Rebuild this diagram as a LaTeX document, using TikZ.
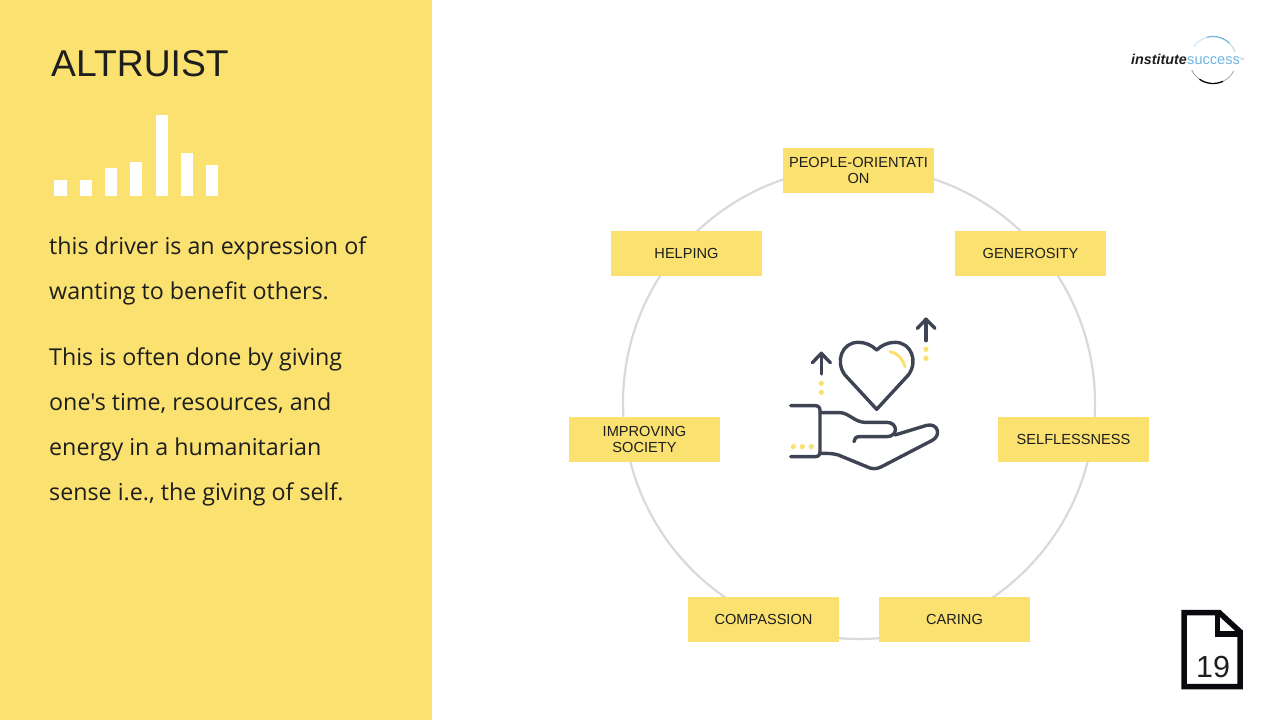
\documentclass[tikz,border=0pt]{standalone}
\usepackage{fontspec}
\setmainfont{Liberation Sans}
\newfontfamily\bodyfont{Open Sans}
\usetikzlibrary{positioning}
\definecolor{panelcolor}{RGB}{250, 225, 112}
\definecolor{iconcolor}{RGB}{62, 68, 84}
\definecolor{inkcolor}{RGB}{30, 30, 30}
\definecolor{ringcolor}{RGB}{217, 217, 217}
\definecolor{logoblue}{RGB}{110, 180, 225}

\begin{document}
\begin{tikzpicture}[
    x=1pt, y=-1pt,
    driver/.style={rectangle, fill=panelcolor, minimum width=151pt, minimum height=45pt, inner sep=0pt, align=center, text=inkcolor, font=\fontsize{14.6}{16}\selectfont},
    body/.style={anchor=base west, inner sep=0pt, text=inkcolor, font=\bodyfont\fontsize{23.25}{28}\selectfont},
    bar/.style={fill=white, draw=none},
    iconline/.style={draw=iconcolor, line width=3.4pt, line cap=round, line join=round},
    icondot/.style={fill=panelcolor, draw=none}
]

\useasboundingbox (0,0) rectangle (1280,720);

% Left panel
\fill[panelcolor] (0,0) rectangle (432,720);
\node[anchor=base west, inner sep=0pt, text=inkcolor, font=\fontsize{37.3}{40}\selectfont] (title) at (51,76) {ALTRUIST};

% Bars
\fill[bar] (54,180) rectangle (67,196);
\fill[bar] (80,180) rectangle (92,196);
\fill[bar] (105,168) rectangle (117,196);
\fill[bar] (130,162) rectangle (142,196);
\fill[bar] (156,115) rectangle (168,196);
\fill[bar] (181,153) rectangle (193,196);
\fill[bar] (206,165) rectangle (218,196);

% Text
\node[body] (line1) at (49,254) {this driver is an expression of};
\node[body] (line2) at (49,299) {wanting to benefit others.};
\node[body] (line3) at (49,365) {This is often done by giving};
\node[body] (line4) at (49,410) {one's time, resources, and};
\node[body] (line5) at (49,455) {energy in a humanitarian};
\node[body] (line6) at (49,500) {sense i.e., the giving of self.};

% Ring
\node[circle, draw=ringcolor, line width=2.2pt, minimum size=472pt, inner sep=0pt] (ring) at (859,403) {};

% Drivers
\node[driver] (people) at (858.5,170.5) {PEOPLE-ORIENTATI\\ON};
\node[driver] (generosity) at (1030.5,253.5) {GENEROSITY};
\node[driver] (helping) at (686.5,253.5) {HELPING};
\node[driver] (improving) at (644.5,439.5) {IMPROVING\\SOCIETY};
\node[driver] (selflessness) at (1073.5,439.5) {SELFLESSNESS};
\node[driver] (compassion) at (763.5,619.5) {COMPASSION};
\node[driver] (caring) at (954.5,619.5) {CARING};

% Hand icon
\begin{scope}[shift={(770,300)}, x=0.3333pt, y=-0.3333pt]
    \draw[iconline] (320,328) -- (225,225) .. controls (195,185) and (215,127) .. (265,127) .. controls (285,127) and (305,135) .. (320,150) .. controls (335,135) and (355,127) .. (375,127) .. controls (425,127) and (445,185) .. (415,225) -- cycle;
    \draw[draw=panelcolor, line width=3pt, line cap=round] (360,155) .. controls (385,160) and (400,180) .. (405,200);
    \draw[iconline] (154,222) -- (154,160);
    \draw[iconline] (127,188) -- (154,160) -- (181,188);
    \draw[iconline] (468,122) -- (468,58);
    \draw[iconline] (442,85) -- (468,58) -- (495,85);
    \draw[iconline] (62,317) -- (135,317) .. controls (145,317) and (150,322) .. (150,332) -- (150,455) .. controls (150,465) and (145,470) .. (135,470) -- (62,470);
    \draw[iconline] (150,338) -- (210,338) .. controls (235,338) and (255,367) .. (285,367) -- (350,367) .. controls (385,367) and (385,410) .. (350,410) -- (268,410) .. controls (258,410) and (252,416) .. (252,425);
    \draw[iconline] (375,405) -- (470,376) .. controls (505,368) and (515,408) .. (485,422) -- (335,500) .. controls (320,508) and (305,508) .. (290,500) -- (205,465) .. controls (190,460) and (170,460) .. (150,460);
    \foreach \px/\py in {154/250, 154/277, 468/148, 468/175, 70/440, 97/440, 124/440} {
        \fill[icondot] (\px,\py) circle (8);
    }
\end{scope}

% Logo
\node[anchor=base west, inner sep=0pt, text=inkcolor, font=\fontsize{14.3}{15}\selectfont\bfseries\itshape] (institute) at (1131,64) {institute};
\node[anchor=base west, inner sep=0pt, text=logoblue, font=\fontsize{14.6}{15}\selectfont] (success) at (institute.base east) {success};
\node[anchor=base west, inner sep=0pt, text=logoblue, font=\fontsize{3.5}{4}\selectfont] (trademark) at (1239,60) {TM};
\begin{scope}[shift={(1213,60)}, y=1pt]
    \draw[logoblue!35, line width=1pt] (145:23.5) arc[start angle=145, end angle=105, radius=23.5];
    \draw[logoblue, line width=1.2pt] (105:23.5) arc[start angle=105, end angle=45, radius=23.5];
    \draw[logoblue!50, line width=1pt] (45:23.5) arc[start angle=45, end angle=20, radius=23.5];
    \draw[black!40, line width=0.8pt] (205:23.5) arc[start angle=205, end angle=235, radius=23.5];
    \draw[black, line width=1.3pt] (235:23.5) arc[start angle=235, end angle=295, radius=23.5];
    \draw[black!35, line width=0.8pt] (295:23.5) arc[start angle=295, end angle=332, radius=23.5];
\end{scope}

% Page number
\begin{scope}[shift={(1160,590)}, x=0.3333pt, y=-0.3333pt]
    \draw[draw=black!85!iconcolor, line width=5.5pt, line join=miter] (72,68) -- (178,68) -- (240,125) -- (240,290) -- (72,290) -- cycle;
    \draw[draw=black!85!iconcolor, line width=5.5pt, line join=miter] (172,68) -- (172,132) -- (240,132);
\end{scope}
\node[inner sep=0pt, text=inkcolor, font=\fontsize{30.5}{32}\selectfont] (pagenum) at (1213,667) {19};

\end{tikzpicture}
\end{document}
